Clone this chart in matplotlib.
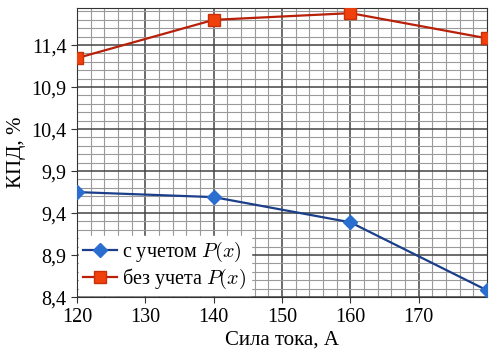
import numpy as np
from matplotlib import pyplot as plt
from matplotlib.ticker import MultipleLocator, FixedLocator

plt.rcParams['font.family'] = ['Liberation Serif', 'DejaVu Serif']
plt.rcParams['mathtext.fontset'] = 'cm'

current = [120, 140, 160, 180]
with_p = [9.65, 9.59, 9.29, 8.48]
without_p = [11.245, 11.70, 11.78, 11.48]
x_ticks = [120, 130, 140, 150, 160, 170]
y_ticks = [8.4, 8.9, 9.4, 9.9, 10.4, 10.9, 11.4]

fig = plt.figure(figsize=(4.94, 3.52), dpi=100)
ax = fig.add_axes([0.156, 0.156, 0.83, 0.821])

ax.plot(current, with_p, color='#1c3f8a', lw=1.6, marker='D', ms=7,
        mfc='#2a6fd0', mec='#2a6fd0', label=r'с учетом $P(x)$', zorder=3)
ax.plot(current, without_p, color='#b8200a', lw=1.6, marker='s', ms=9,
        mfc='#f0400c', mec='#c83008', label=r'без учета $P(x)$', zorder=3)

ax.set_xlim(120, 180)
ax.set_ylim(8.4, 11.84)
ax.xaxis.set_major_locator(FixedLocator(x_ticks))
ax.xaxis.set_minor_locator(MultipleLocator(2))
ax.yaxis.set_major_locator(FixedLocator(y_ticks))
ax.yaxis.set_minor_locator(MultipleLocator(0.1))
ax.set_yticklabels([f'{v:.1f}'.replace('.', ',') for v in y_ticks])
ax.set_xticklabels([str(v) for v in x_ticks])

ax.grid(which='major', color='#444444', lw=1.1)
ax.grid(which='minor', color='#9a9a9a', lw=0.8)
ax.set_axisbelow(True)
for s in ax.spines.values():
    s.set_color('#333333')
ax.tick_params(which='major', labelsize=14.5, length=4, color='#333333')
ax.tick_params(which='minor', length=0)

ax.set_xlabel('Сила тока, А', fontsize=15, labelpad=3)
ax.set_ylabel('КПД, %', fontsize=15, labelpad=4)

leg = ax.legend(loc='lower left', fontsize=14.5, frameon=True, fancybox=False,
                edgecolor='white', framealpha=1, borderaxespad=0.1,
                handlelength=1.7, handletextpad=0.25, borderpad=0.2,
                labelspacing=0.15)

fig.savefig('out.png', dpi=100)
